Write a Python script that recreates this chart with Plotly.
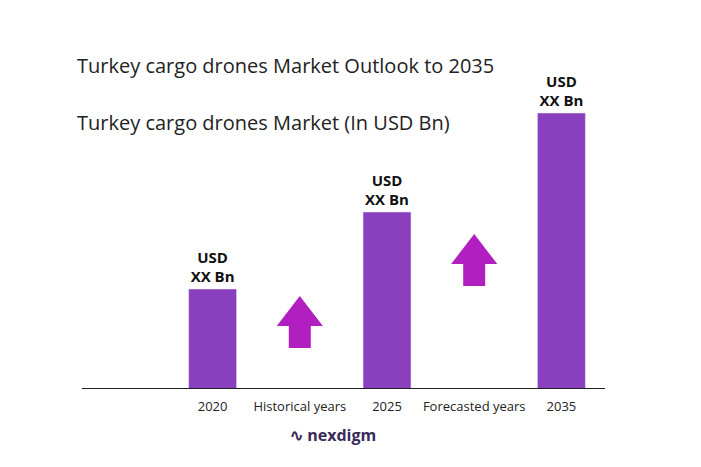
import plotly.graph_objects as go

categories = ["2020", "Historical years", "2025", "Forecasted years", "2035"]
bar_years = ["2020", "2025", "2035"]
bar_values = [1.0, 1.77, 2.76]
bar_labels = ["<b>USD<br>XX Bn</b>"] * 3
arrow_cats = ["Historical years", "Forecasted years"]
arrow_head = [0.73, 1.35]
arrow_shaft = [0.52, 1.14]

fig = go.Figure()
fig.add_trace(go.Bar(
    x=bar_years, y=bar_values, text=bar_labels, textposition="outside",
    textfont=dict(size=15, color="#111", family="Open Sans"),
    marker_color="#8a3fbf", width=0.55, cliponaxis=False,
))
fig.add_trace(go.Scatter(
    x=arrow_cats, y=arrow_shaft, mode="markers",
    marker=dict(symbol="square", size=22, color="#b21fc0"),
))
fig.add_trace(go.Scatter(
    x=arrow_cats, y=arrow_head, mode="markers",
    marker=dict(symbol="triangle-up", size=40, color="#b21fc0"),
))

fig.update_layout(
    width=701, height=467, showlegend=False,
    plot_bgcolor="white", paper_bgcolor="white",
    margin=dict(l=161, r=104, t=61, b=86),
    font=dict(family="Open Sans", color="#222"),
    xaxis=dict(categoryorder="array", categoryarray=categories,
               showgrid=False, showline=False, ticks="", ticklabelstandoff=8,
               tickfont=dict(size=13, color="#222")),
    yaxis=dict(range=[0, 3.2], visible=False),
)
# baseline
fig.add_shape(type="line", xref="paper", yref="y", x0=-0.2, x1=1.0, y0=0, y1=0,
              line=dict(color="#222", width=2))
fig.add_annotation(text="Turkey cargo drones Market Outlook to 2035", xref="paper", yref="paper",
                   x=-0.215, y=1.06, xanchor="left", showarrow=False, font=dict(size=20))
fig.add_annotation(text="Turkey cargo drones Market (In USD Bn)", xref="paper", yref="paper",
                   x=-0.215, y=0.88, xanchor="left", showarrow=False, font=dict(size=20))
fig.add_annotation(text="<b>∿ nexdigm</b>", xref="paper", yref="paper",
                   x=0.375, y=-0.185, xanchor="center", showarrow=False,
                   font=dict(size=16, color="#3a2a5a"))
fig.write_html("out.html")
